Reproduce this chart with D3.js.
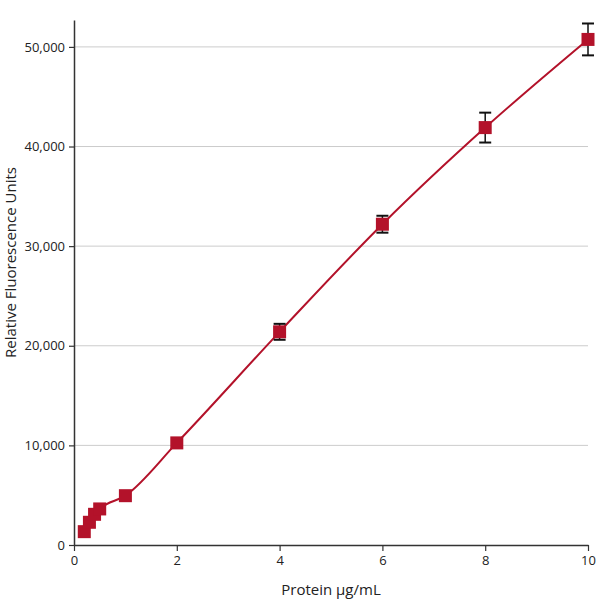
<!DOCTYPE html>
<html>
<head>
<meta charset="utf-8">
<script src="https://cdn.jsdelivr.net/npm/d3@7"></script>
<style>
  body { margin: 0; background: #fff; }
  text { font-family: "Open Sans", "Noto Sans", sans-serif; fill: #222; }
</style>
</head>
<body>
<div id="chart"></div>
<script>
// Data
const protein = [0.2, 0.3, 0.4, 0.5, 1, 2, 4, 6, 8, 10];
const rfu = [1340, 2280, 3080, 3620, 4950, 10250, 21400, 32200, 41900, 50750];
const rfuErr = [0, 0, 0, 0, 0, 0, 800, 850, 1500, 1600];
const xTicks = [0, 2, 4, 6, 8, 10];
const yTicks = [0, 10000, 20000, 30000, 40000, 50000];

const data = protein.map((p, i) => ({ x: p, y: rfu[i], err: rfuErr[i] }));

// Dimensions
const margin = { top: 20, right: 12, bottom: 65, left: 74 },
  width = 600 - margin.left - margin.right,
  height = 610 - margin.top - margin.bottom;

const svg = d3.select("#chart").append("svg")
  .attr("width", 600)
  .attr("height", 610)
  .append("g")
  .attr("transform", "translate(" + margin.left + "," + margin.top + ")");

const x = d3.scaleLinear().domain([0, 10]).range([0, width]);
const y = d3.scaleLinear().domain([0, 52700]).range([height, 0]);

const red = "#b3122a";

// Gridlines
svg.selectAll(".grid")
  .data(yTicks.filter(d => d > 0))
  .enter().append("line")
  .attr("x1", 0)
  .attr("x2", width)
  .attr("y1", d => y(d))
  .attr("y2", d => y(d))
  .attr("stroke", "#cccccc")
  .attr("stroke-width", 1);

// Axes
const xAxis = svg.append("g")
  .attr("transform", "translate(0," + height + ")")
  .call(d3.axisBottom(x).tickValues(xTicks).tickSize(6).tickSizeOuter(0).tickPadding(5));

const yAxis = svg.append("g")
  .call(d3.axisLeft(y).tickValues(yTicks).tickFormat(d3.format(",")).tickSize(5).tickSizeOuter(0).tickPadding(4));

[xAxis, yAxis].forEach(a => {
  a.select(".domain").attr("stroke", "#333").attr("stroke-width", 1.5);
  a.selectAll(".tick line").attr("stroke", "#333").attr("stroke-width", 1.2);
  a.selectAll(".tick text").attr("font-size", "13px").attr("fill", "#222");
});

// Axis labels
svg.append("text")
  .attr("x", width / 2)
  .attr("y", height + 50)
  .attr("text-anchor", "middle")
  .attr("font-size", "15px")
  .text("Protein \u00b5g/mL");

svg.append("text")
  .attr("transform", "rotate(-90)")
  .attr("x", -(height / 2) + 20)
  .attr("y", -58)
  .attr("text-anchor", "middle")
  .attr("font-size", "15px")
  .text("Relative Fluorescence Units");

// Fitted curve
const line = d3.line()
  .x(d => x(d.x))
  .y(d => y(d.y))
  .curve(d3.curveMonotoneX);

svg.append("path")
  .datum(data)
  .attr("fill", "none")
  .attr("stroke", red)
  .attr("stroke-width", 2)
  .attr("d", line);

// Error bars: stems behind the squares
const withErr = data.filter(d => d.err > 0);
svg.selectAll(".stem")
  .data(withErr)
  .enter().append("line")
  .attr("x1", d => x(d.x))
  .attr("x2", d => x(d.x))
  .attr("y1", d => y(d.y - d.err))
  .attr("y2", d => y(d.y + d.err))
  .attr("stroke", "#111")
  .attr("stroke-width", 1.5);

// Points
const size = 13;
svg.selectAll(".pt")
  .data(data)
  .enter().append("rect")
  .attr("x", d => x(d.x) - size / 2)
  .attr("y", d => y(d.y) - size / 2)
  .attr("width", size)
  .attr("height", size)
  .attr("fill", red);

// Error bar caps on top
withErr.forEach(d => {
  [d.y - d.err, d.y + d.err].forEach(v => {
    svg.append("line")
      .attr("x1", x(d.x) - 6)
      .attr("x2", x(d.x) + 6)
      .attr("y1", y(v))
      .attr("y2", y(v))
      .attr("stroke", "#111")
      .attr("stroke-width", 2);
  });
});
</script>
</body>
</html>
